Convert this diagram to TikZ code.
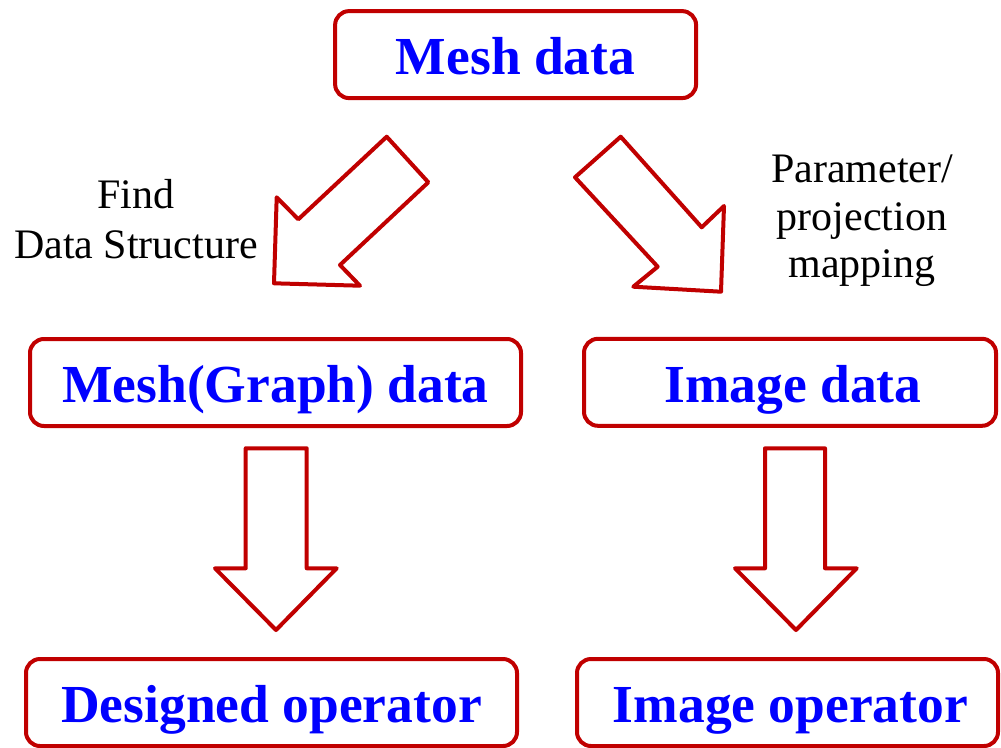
\documentclass[tikz,border=0pt]{standalone}
\usepackage{fontspec}
\setmainfont{Liberation Serif}
\definecolor{boxred}{HTML}{C00000}
\definecolor{txtblue}{HTML}{0000FF}
\begin{document}
\begin{tikzpicture}[x=1pt,y=-1pt,
  box/.style={draw=boxred, line width=4pt, rounded corners=14pt, minimum height=87pt,
    inner sep=0pt, text height=48pt, text depth=8pt,
    font=\fontsize{53.5}{60}\selectfont\bfseries, text=txtblue},
  bigarrow/.style={draw=boxred, line width=4pt, line join=round},
  lbl/.style={align=center, inner sep=0pt}]
\useasboundingbox (0,0) rectangle (1001,747);
\node[box, minimum width=361pt] (mesh) at (515.6,54.6) {Mesh data};
\node[box, minimum width=491pt] (graph) at (275.5,382.5) {Mesh(Graph) data};
\node[box, minimum width=412pt] (image) at (790,382.3) {\hspace*{6pt}Image data};
\node[box, minimum width=491pt] (designed) at (271.5,702.5) {Designed operator};
\node[box, minimum width=421pt] (imgop) at (787.5,702.5) {\hspace*{6pt}Image operator};
% block arrows
\draw[bigarrow] (386.7,136.7) -- (428.3,182.3) -- (340,265) -- (360,285.7) -- (274,283.3) -- (276.7,197.3) -- (298.3,219.3) -- cycle;
\draw[bigarrow] (620.7,136.7) -- (575,177.3) -- (657.7,266.7) -- (633.3,286.7) -- (721,291.7) -- (724,206) -- (701.7,227.3) -- cycle;
\draw[bigarrow] (245.7,448.3) -- (306.7,448.3) -- (306.7,568.3) -- (336.7,568.3) -- (276,630) -- (215,568.3) -- (245.7,568.3) -- cycle;
\draw[bigarrow] (765,448.3) -- (825,448.3) -- (825,568.3) -- (856.7,568.3) -- (796,630) -- (735,568.3) -- (765,568.3) -- cycle;
% labels
\node[lbl, font=\fontsize{42}{50}\selectfont] (findlbl) at (136,219.5) {Find\\Data Structure};
\node[lbl, font=\fontsize{42}{47.5}\selectfont] (paramlbl) at (862,221) {Parameter/\\projection\\mapping};
\end{tikzpicture}
\end{document}
